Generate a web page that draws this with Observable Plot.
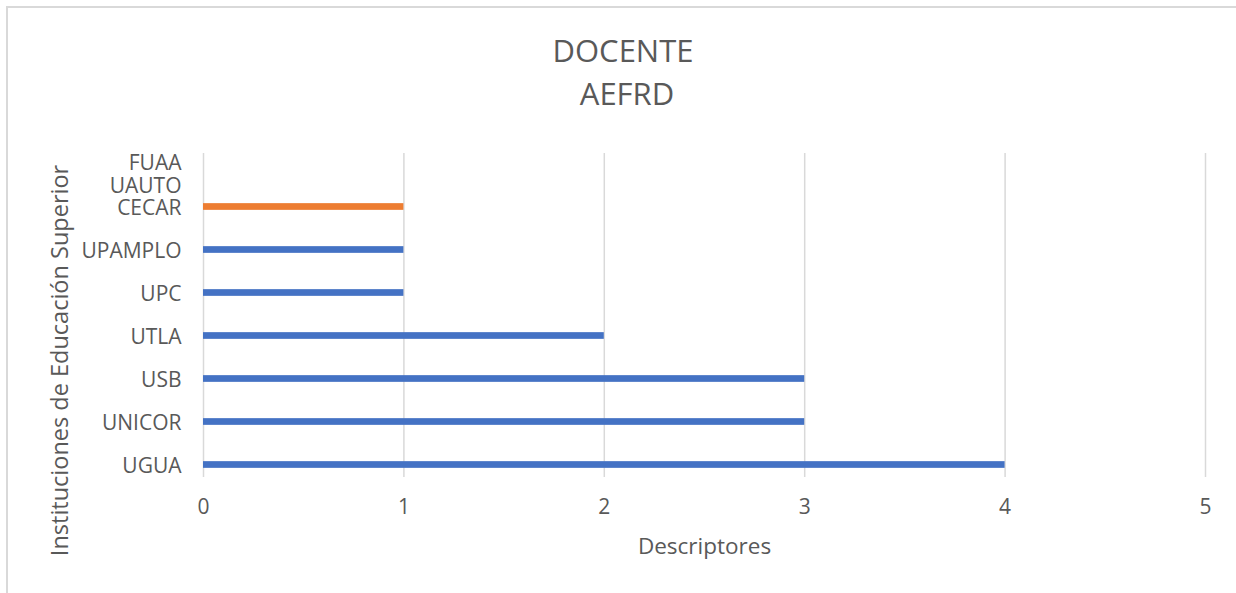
<!DOCTYPE html>
<html>
<head>
<meta charset="utf-8">
<script src="https://cdn.jsdelivr.net/npm/d3@7"></script>
<script src="https://cdn.jsdelivr.net/npm/@observablehq/plot@0.6"></script>
<style>
  html, body { margin: 0; padding: 0; background: #fff; }
  #wrap { position: relative; width: 1236px; height: 593px; overflow: hidden; font-family: "Open Sans", sans-serif; }
  #border { position: absolute; left: 6px; top: 6px; width: 1240px; height: 600px; border-top: 2px solid #d9d9d9; border-left: 2px solid #d9d9d9; }
  #title { position: absolute; left: 0; top: 29px; width: 1246px; text-align: center; font-size: 31px; line-height: 43.4px; color: #595959; white-space: pre; }
  #chart { position: absolute; left: 0; top: 0; }
</style>
</head>
<body>
<div id="wrap">
  <div id="border"></div>
  <div id="chart"></div>
  <div id="title">DOCENTE
 AEFRD</div>
</div>
<script>
const categories = ["FUAA\nUAUTO\nCECAR", "UPAMPLO", "UPC", "UTLA", "USB", "UNICOR", "UGUA"];
const values = [1, 1, 1, 2, 3, 3, 4];
const seriesOf = ["Serie 2", "Serie 1", "Serie 1", "Serie 1", "Serie 1", "Serie 1", "Serie 1"];
const xTicks = [0, 1, 2, 3, 4, 5];
const xTitle = "Descriptores";
const yTitle = "Instituciones de Educación Superior";

const data = categories.map((c, i) => ({label: c, value: values[i], series: seriesOf[i]}));

const chart = Plot.plot({
  width: 1236,
  height: 593,
  marginLeft: 203,
  marginRight: 31,
  marginTop: 153,
  marginBottom: 116,
  style: {fontFamily: "'Open Sans', sans-serif", color: "#595959", background: "transparent"},
  x: {domain: [0, 5], axis: null},
  y: {type: "band", domain: categories, range: [184.1, 487.3], padding: 0, axis: null},
  color: {domain: ["Serie 1", "Serie 2"], range: ["#4472C4", "#ED7D31"]},
  marks: [
    Plot.gridX(xTicks, {stroke: "#d9d9d9", strokeOpacity: 1, strokeWidth: 1.5}),
    Plot.axisX(xTicks, {tickSize: 0, tickPadding: 22, fontSize: 21, fill: "#595959", label: null, tickFormat: d => String(d)}),
    Plot.barX(data, {x: "value", y: "label", fill: "series", insetTop: 18.15, insetBottom: 18.15}),
    Plot.text(data, {y: "label", text: "label", frameAnchor: "left", dx: -22, dy: 8, textAnchor: "end", lineAnchor: "bottom", lineHeight: 1.07, fontSize: 21, fill: "#595959"}),
    Plot.text([xTitle], {frameAnchor: "bottom", dy: 76, lineAnchor: "bottom", textAnchor: "middle", fontSize: 22.5, fill: "#595959"}),
    Plot.text([yTitle], {frameAnchor: "left", dx: -143, dy: 45, rotate: -90, textAnchor: "middle", lineAnchor: "middle", fontSize: 23.5, fill: "#595959"})
  ]
});
document.getElementById("chart").appendChild(chart);
</script>
</body>
</html>
